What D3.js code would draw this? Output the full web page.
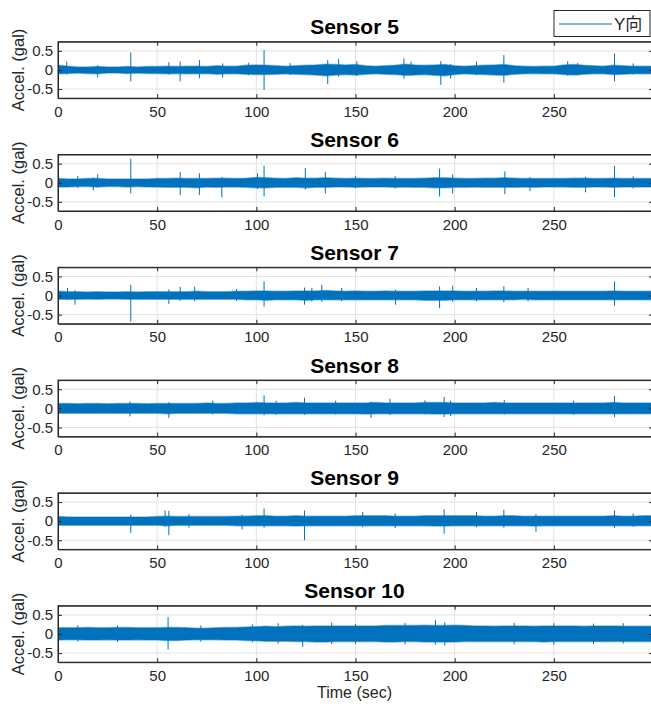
<!DOCTYPE html>
<html lang="en">
<head>
  <meta charset="UTF-8">
  <title>Sensor acceleration records</title>
  <script src="https://d3js.org/d3.v7.min.js"></script>
  <style>
    body {
      margin: 0;
      background: #fff;
      font-family: "Liberation Sans", Arial, sans-serif;
    }
    #chart {
      width: 651px;
      height: 706px;
    }
  </style>
</head>
<body>
  <div id="chart"></div>
  <script>
    // band envelope sampled every 5 s (0..300), values in gal
    const bandTimes = d3.range(0, 301, 5);
    const xTicks = [0, 50, 100, 150, 200, 250];
    const yTicks = [-0.5, 0, 0.5];
    const sensorNames = ['Sensor 5', 'Sensor 6', 'Sensor 7', 'Sensor 8', 'Sensor 9', 'Sensor 10'];
    const legendLabel = 'Y向';

    const s5Upper = [0.12,0.10,0.08,0.08,0.09,0.08,0.08,0.09,0.08,0.09,0.09,0.10,0.09,0.10,0.10,0.09,0.11,0.10,0.10,0.12,0.13,0.12,0.11,0.10,0.11,0.12,0.13,0.15,0.14,0.13,0.14,0.11,0.10,0.11,0.12,0.15,0.13,0.12,0.13,0.14,0.11,0.10,0.11,0.12,0.13,0.14,0.11,0.10,0.09,0.10,0.10,0.13,0.14,0.12,0.11,0.10,0.12,0.11,0.10,0.10,0.10];
    const s5Lower = [-0.10,-0.09,-0.08,-0.09,-0.10,-0.08,-0.08,-0.09,-0.08,-0.09,-0.09,-0.10,-0.09,-0.10,-0.10,-0.09,-0.11,-0.10,-0.10,-0.11,-0.12,-0.12,-0.11,-0.10,-0.11,-0.12,-0.13,-0.15,-0.13,-0.12,-0.13,-0.11,-0.10,-0.11,-0.12,-0.14,-0.13,-0.12,-0.14,-0.15,-0.12,-0.10,-0.11,-0.12,-0.13,-0.14,-0.11,-0.10,-0.09,-0.10,-0.10,-0.12,-0.13,-0.11,-0.10,-0.10,-0.12,-0.11,-0.10,-0.10,-0.10];
    const s5Spikes = [[4.4,0.22,-0.12],[20,0.12,-0.20],[36.7,0.46,-0.30],[55.9,0.20,-0.12],[61.6,0.22,-0.30],[71.3,0.26,-0.22],[83,0.17,-0.20],[96,0.19,-0.14],[103.9,0.52,-0.52],[117,0.18,-0.13],[136,0.26,-0.37],[141.5,0.29,-0.18],[150.7,0.23,-0.16],[174.4,0.30,-0.23],[178,0.22,-0.15],[193,0.23,-0.39],[198,0.15,-0.23],[211,0.22,-0.14],[224.8,0.39,-0.33],[257,0.23,-0.15],[262,0.18,-0.14],[280.6,0.43,-0.30],[290,0.17,-0.12]];

    const s6Upper = [0.11,0.10,0.10,0.11,0.11,0.10,0.10,0.10,0.10,0.10,0.11,0.11,0.12,0.11,0.11,0.11,0.12,0.12,0.11,0.12,0.14,0.13,0.12,0.11,0.13,0.12,0.12,0.13,0.12,0.11,0.12,0.11,0.11,0.12,0.11,0.11,0.11,0.12,0.13,0.13,0.12,0.11,0.11,0.12,0.12,0.13,0.12,0.11,0.11,0.11,0.11,0.11,0.12,0.12,0.11,0.11,0.12,0.11,0.11,0.11,0.11];
    const s6Lower = [-0.11,-0.11,-0.10,-0.10,-0.11,-0.10,-0.10,-0.11,-0.10,-0.11,-0.11,-0.12,-0.12,-0.12,-0.13,-0.11,-0.12,-0.11,-0.11,-0.12,-0.13,-0.13,-0.12,-0.12,-0.12,-0.13,-0.12,-0.12,-0.11,-0.11,-0.12,-0.11,-0.11,-0.11,-0.12,-0.11,-0.12,-0.12,-0.13,-0.13,-0.12,-0.12,-0.11,-0.12,-0.12,-0.12,-0.12,-0.11,-0.12,-0.11,-0.11,-0.11,-0.12,-0.12,-0.11,-0.11,-0.12,-0.11,-0.11,-0.11,-0.11];
    const s6Spikes = [[10,0.18,-0.14],[17.8,0.14,-0.20],[20,0.22,-0.12],[36.7,0.63,-0.28],[61.6,0.28,-0.32],[71.3,0.25,-0.32],[82.6,0.15,-0.38],[100.6,0.25,-0.16],[103.9,0.45,-0.36],[124.7,0.39,-0.18],[134.8,0.28,-0.28],[150,0.18,-0.14],[170,0.17,-0.15],[192.4,0.37,-0.36],[199,0.22,-0.28],[225.3,0.30,-0.30],[238,0.15,-0.22],[266,0.16,-0.25],[280.6,0.44,-0.38],[290,0.17,-0.15]];

    const s7Upper = [0.11,0.10,0.10,0.09,0.10,0.09,0.09,0.10,0.09,0.10,0.10,0.10,0.10,0.10,0.11,0.10,0.10,0.10,0.11,0.11,0.12,0.12,0.11,0.11,0.12,0.12,0.12,0.13,0.12,0.11,0.12,0.11,0.11,0.12,0.11,0.11,0.11,0.12,0.12,0.12,0.12,0.11,0.11,0.11,0.12,0.12,0.11,0.11,0.11,0.11,0.11,0.11,0.11,0.11,0.11,0.11,0.12,0.11,0.11,0.11,0.11];
    const s7Lower = [-0.10,-0.10,-0.10,-0.09,-0.10,-0.09,-0.09,-0.10,-0.10,-0.10,-0.10,-0.10,-0.10,-0.10,-0.10,-0.10,-0.10,-0.10,-0.10,-0.11,-0.11,-0.12,-0.11,-0.11,-0.11,-0.12,-0.11,-0.11,-0.11,-0.11,-0.11,-0.11,-0.11,-0.11,-0.11,-0.11,-0.11,-0.12,-0.12,-0.12,-0.11,-0.11,-0.11,-0.11,-0.11,-0.11,-0.11,-0.10,-0.11,-0.11,-0.11,-0.11,-0.11,-0.11,-0.11,-0.11,-0.11,-0.11,-0.11,-0.11,-0.11];
    const s7Spikes = [[4.8,0.20,-0.12],[8.6,0.14,-0.24],[36.7,0.28,-0.68],[55.9,0.16,-0.22],[61.6,0.23,-0.14],[68.9,0.23,-0.15],[90,0.17,-0.14],[103.9,0.37,-0.29],[124.3,0.21,-0.24],[128,0.20,-0.15],[133,0.28,-0.16],[143,0.20,-0.15],[170.2,0.15,-0.24],[192.4,0.24,-0.33],[199,0.26,-0.16],[211,0.20,-0.15],[224.8,0.24,-0.18],[237,0.20,-0.15],[280.6,0.37,-0.27]];

    const s8Upper = [0.13,0.13,0.12,0.13,0.13,0.12,0.13,0.13,0.13,0.12,0.13,0.13,0.13,0.13,0.13,0.14,0.13,0.13,0.14,0.14,0.15,0.14,0.14,0.14,0.15,0.14,0.14,0.14,0.14,0.14,0.14,0.14,0.15,0.14,0.14,0.14,0.14,0.15,0.15,0.15,0.14,0.14,0.14,0.14,0.15,0.14,0.14,0.14,0.14,0.14,0.14,0.14,0.14,0.14,0.14,0.14,0.15,0.14,0.14,0.14,0.14];
    const s8Lower = [-0.13,-0.13,-0.13,-0.13,-0.13,-0.13,-0.13,-0.13,-0.13,-0.13,-0.13,-0.14,-0.13,-0.13,-0.13,-0.13,-0.13,-0.13,-0.14,-0.14,-0.14,-0.14,-0.14,-0.14,-0.14,-0.14,-0.14,-0.14,-0.14,-0.14,-0.14,-0.15,-0.14,-0.14,-0.14,-0.14,-0.14,-0.14,-0.15,-0.15,-0.14,-0.14,-0.14,-0.14,-0.14,-0.14,-0.14,-0.14,-0.14,-0.14,-0.14,-0.14,-0.14,-0.14,-0.14,-0.14,-0.14,-0.14,-0.14,-0.14,-0.14];
    const s8Spikes = [[36.3,0.18,-0.21],[55.9,0.16,-0.25],[78,0.20,-0.16],[103.9,0.34,-0.18],[110,0.20,-0.17],[124.3,0.28,-0.17],[140,0.20,-0.16],[157.8,0.18,-0.25],[167.4,0.25,-0.17],[185,0.21,-0.16],[194.7,0.30,-0.23],[198,0.20,-0.20],[225,0.22,-0.16],[260,0.20,-0.17],[280.6,0.32,-0.23]];

    const s9Upper = [0.12,0.11,0.11,0.11,0.11,0.11,0.11,0.11,0.11,0.11,0.12,0.13,0.12,0.12,0.12,0.12,0.12,0.12,0.13,0.13,0.14,0.14,0.13,0.13,0.14,0.13,0.13,0.13,0.13,0.13,0.14,0.14,0.14,0.14,0.13,0.13,0.13,0.14,0.14,0.14,0.14,0.14,0.14,0.13,0.13,0.14,0.14,0.13,0.13,0.13,0.13,0.13,0.13,0.13,0.13,0.13,0.14,0.13,0.13,0.14,0.14];
    const s9Lower = [-0.11,-0.11,-0.11,-0.11,-0.11,-0.11,-0.11,-0.11,-0.11,-0.11,-0.11,-0.12,-0.11,-0.11,-0.11,-0.11,-0.11,-0.11,-0.12,-0.12,-0.12,-0.12,-0.12,-0.12,-0.13,-0.12,-0.12,-0.12,-0.12,-0.12,-0.12,-0.12,-0.12,-0.12,-0.12,-0.12,-0.12,-0.12,-0.13,-0.13,-0.12,-0.12,-0.12,-0.12,-0.12,-0.12,-0.12,-0.12,-0.13,-0.12,-0.12,-0.12,-0.12,-0.12,-0.12,-0.12,-0.12,-0.12,-0.12,-0.12,-0.12];
    const s9Spikes = [[36.7,0.17,-0.31],[54,0.28,-0.15],[55.9,0.27,-0.37],[66,0.18,-0.17],[92.8,0.17,-0.22],[103.9,0.33,-0.17],[124.3,0.28,-0.50],[153.6,0.24,-0.16],[170,0.20,-0.18],[194.7,0.31,-0.33],[211,0.24,-0.16],[224.8,0.30,-0.17],[241,0.18,-0.28],[280.6,0.28,-0.18],[290,0.20,-0.15]];

    const s10Upper = [0.16,0.16,0.16,0.17,0.16,0.16,0.17,0.17,0.16,0.16,0.16,0.17,0.17,0.16,0.15,0.15,0.16,0.17,0.17,0.18,0.19,0.20,0.19,0.20,0.21,0.20,0.21,0.21,0.21,0.21,0.21,0.21,0.21,0.22,0.22,0.22,0.22,0.23,0.22,0.22,0.23,0.22,0.21,0.21,0.20,0.21,0.21,0.21,0.20,0.21,0.21,0.21,0.21,0.20,0.21,0.21,0.21,0.20,0.20,0.20,0.20];
    const s10Lower = [-0.16,-0.15,-0.15,-0.16,-0.16,-0.15,-0.16,-0.16,-0.15,-0.16,-0.16,-0.17,-0.17,-0.16,-0.15,-0.15,-0.15,-0.16,-0.16,-0.17,-0.18,-0.19,-0.19,-0.19,-0.20,-0.20,-0.21,-0.21,-0.20,-0.20,-0.20,-0.20,-0.20,-0.21,-0.21,-0.20,-0.20,-0.21,-0.21,-0.21,-0.21,-0.20,-0.20,-0.20,-0.20,-0.20,-0.20,-0.20,-0.20,-0.21,-0.20,-0.20,-0.20,-0.20,-0.20,-0.20,-0.20,-0.20,-0.20,-0.20,-0.20];
    const s10Spikes = [[10,0.23,-0.20],[30,0.22,-0.21],[55.5,0.44,-0.41],[72,0.22,-0.20],[98,0.25,-0.22],[111,0.28,-0.25],[123.4,0.24,-0.34],[138,0.30,-0.26],[150,0.26,-0.26],[175,0.29,-0.27],[190.3,0.37,-0.28],[195,0.30,-0.30],[230,0.29,-0.27],[250,0.28,-0.28],[270,0.27,-0.26],[285,0.28,-0.25]];

    const upperSeries = [s5Upper, s6Upper, s7Upper, s8Upper, s9Upper, s10Upper];
    const lowerSeries = [s5Lower, s6Lower, s7Lower, s8Lower, s9Lower, s10Lower];
    const spikeSeries = [s5Spikes, s6Spikes, s7Spikes, s8Spikes, s9Spikes, s10Spikes];

    const W = 651, H = 706;
    const lineColor = '#0072BD';
    const axisColor = '#262626';
    const gridColor = '#e3e3e3';
    const plotLeft = 58, plotRight = 653;
    const firstTop = 41.7, rowStep = 112.8, plotH = 56.5;

    const svg = d3.select('#chart').append('svg')
      .attr('width', W)
      .attr('height', H)
      .style('font-family', '"Liberation Sans", Arial, sans-serif');

    const x = d3.scaleLinear().domain([0, 300]).range([plotLeft, plotRight]);

    sensorNames.forEach((name, i) => {
      const top = firstTop + i * rowStep;
      const y = d3.scaleLinear().domain([-0.74, 0.74]).range([top + plotH, top]);
      const g = svg.append('g');

      const clipId = 'clip' + i;
      svg.append('clipPath').attr('id', clipId)
        .append('rect')
        .attr('x', plotLeft).attr('y', top)
        .attr('width', plotRight - plotLeft).attr('height', plotH);

      // grid
      g.append('g').selectAll('line').data(xTicks.slice(1)).join('line')
        .attr('x1', d => x(d)).attr('x2', d => x(d))
        .attr('y1', top).attr('y2', top + plotH)
        .attr('stroke', gridColor).attr('stroke-width', 1);
      g.append('g').selectAll('line').data(yTicks).join('line')
        .attr('x1', plotLeft).attr('x2', plotRight)
        .attr('y1', d => y(d)).attr('y2', d => y(d))
        .attr('stroke', gridColor).attr('stroke-width', 1);

      // signal: envelope band + isolated peaks
      const band = bandTimes.map((t, k) => ({ t, hi: upperSeries[i][k], lo: lowerSeries[i][k] }));
      const data = g.append('g').attr('clip-path', `url(#${clipId})`);
      data.append('path')
        .datum(band)
        .attr('d', d3.area().x(d => x(d.t)).y0(d => y(d.lo)).y1(d => y(d.hi)))
        .attr('fill', lineColor)
        .attr('stroke', lineColor)
        .attr('stroke-opacity', 0.45)
        .attr('stroke-width', 1.5);
      data.selectAll('line').data(spikeSeries[i]).join('line')
        .attr('x1', d => x(d[0])).attr('x2', d => x(d[0]))
        .attr('y1', d => y(d[1])).attr('y2', d => y(d[2]))
        .attr('stroke', lineColor).attr('stroke-width', 1);

      // box + ticks
      const axB = d3.axisBottom(x).tickValues(xTicks).tickSizeInner(-4).tickSizeOuter(0).tickPadding(8);
      const axL = d3.axisLeft(y).tickValues(yTicks).tickSizeInner(-4).tickSizeOuter(0).tickPadding(8)
        .tickFormat(d => d === 0 ? '0' : d);
      const axT = d3.axisTop(x).tickValues(xTicks).tickSizeInner(-4).tickSizeOuter(0).tickFormat('');
      const axR = d3.axisRight(y).tickValues(yTicks).tickSizeInner(-4).tickSizeOuter(0).tickFormat('');

      const gb = g.append('g').attr('transform', `translate(0,${top + plotH})`).call(axB);
      const gl = g.append('g').attr('transform', `translate(${plotLeft},0)`).call(axL);
      g.append('g').attr('transform', `translate(0,${top})`).call(axT);
      g.append('g').attr('transform', `translate(${plotRight},0)`).call(axR);
      g.selectAll('.domain').attr('stroke', axisColor);
      g.selectAll('.tick line').attr('stroke', axisColor);
      [gb, gl].forEach(a => a.selectAll('text')
        .attr('fill', axisColor).style('font-size', '15px')
        .style('font-family', '"Liberation Sans", Arial, sans-serif'));
      gl.selectAll('text').attr('x', -5);

      g.append('rect')
        .attr('x', plotLeft).attr('y', top)
        .attr('width', plotRight - plotLeft).attr('height', plotH)
        .attr('fill', 'none').attr('stroke', axisColor).attr('stroke-width', 1);

      g.append('text')
        .attr('x', (plotLeft + 651) / 2)
        .attr('y', top - 7.5)
        .attr('text-anchor', 'middle')
        .style('font-size', '21px').style('font-weight', 'bold')
        .attr('fill', '#000')
        .text(name);

      g.append('text')
        .attr('transform', `translate(24,${top + plotH / 2}) rotate(-90)`)
        .attr('text-anchor', 'middle')
        .style('font-size', '16.5px')
        .attr('fill', axisColor)
        .text('Accel. (gal)');
    });

    svg.append('text')
      .attr('x', (plotLeft + 651) / 2)
      .attr('y', 698)
      .attr('text-anchor', 'middle')
      .style('font-size', '16px')
      .attr('fill', axisColor)
      .text('Time (sec)');

    // legend
    const lg = svg.append('g');
    lg.append('rect')
      .attr('x', 554).attr('y', 10.5).attr('width', 96).attr('height', 26)
      .attr('fill', '#fff').attr('stroke', axisColor).attr('stroke-width', 1);
    lg.append('line')
      .attr('x1', 559).attr('x2', 612).attr('y1', 24).attr('y2', 24)
      .attr('stroke', lineColor).attr('stroke-width', 1);
    lg.append('text')
      .attr('x', 614).attr('y', 30)
      .style('font-size', '17px')
      .style('font-family', '"Liberation Sans", "Noto Sans CJK SC", sans-serif')
      .attr('fill', axisColor)
      .text(legendLabel);
  </script>
</body>
</html>
